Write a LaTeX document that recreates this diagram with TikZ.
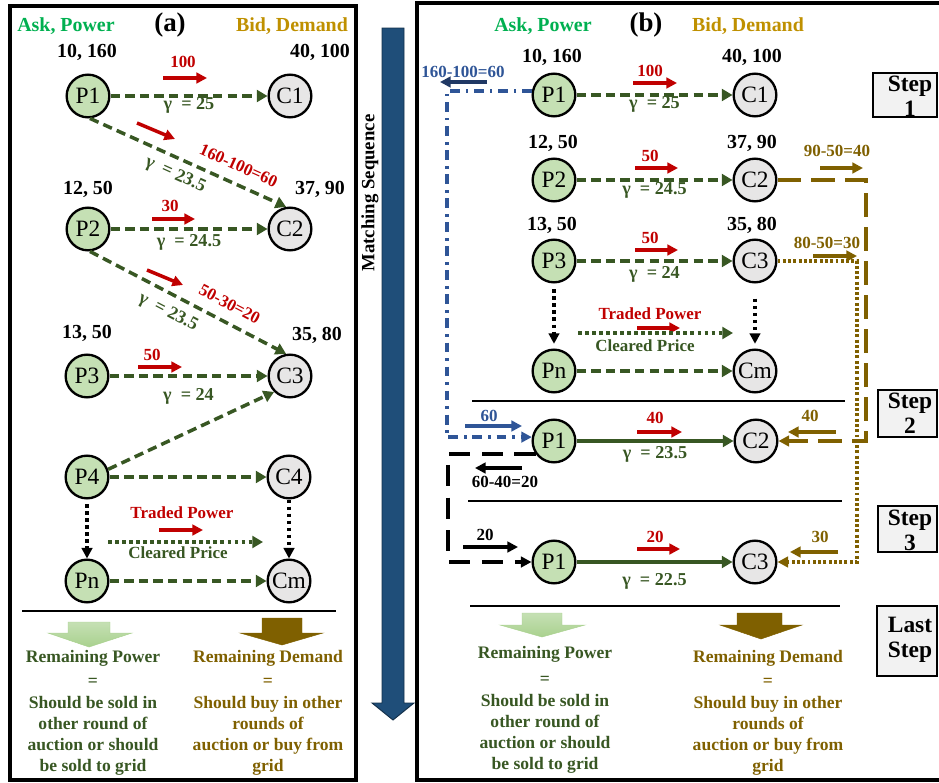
\documentclass[tikz,border=0pt]{standalone}
\usepackage{fontspec}
\setmainfont{Liberation Serif}
\usetikzlibrary{
	positioning,
	arrows.meta
}
\definecolor{askgreen}{HTML}{00B050}
\definecolor{bidgold}{HTML}{BF9000}
\definecolor{pricegreen}{HTML}{385723}
\definecolor{powerred}{HTML}{C00000}
\definecolor{demandbrown}{HTML}{7F6000}
\definecolor{carryblue}{HTML}{2F5597}
\definecolor{remblue}{HTML}{203864}
\definecolor{seqblue}{HTML}{1F4E79}
\definecolor{sellerfill}{HTML}{C5E0B4}
\definecolor{buyerfill}{HTML}{E7E6E6}
\definecolor{powerarrow}{HTML}{A9D18E}
\definecolor{stepfill}{HTML}{F2F2F2}

\begin{document}
\begin{tikzpicture}[
	x=0.03cm, y=-0.03cm,
	seller/.style={circle, draw, line width=2pt, fill=sellerfill, minimum size=1.28cm, inner sep=0pt, font=\fontsize{20}{20}\selectfont},
	buyer/.style={seller, fill=buyerfill},
	sidelabel/.style={font=\fontsize{17}{20}\selectfont\bfseries, inner sep=0pt},
	panel/.style={font=\fontsize{23}{26}\selectfont\bfseries, inner sep=0pt},
	amount/.style={font=\fontsize{14.5}{17}\selectfont\bfseries, inner sep=0pt},
	price/.style={font=\fontsize{15.5}{18}\selectfont\bfseries, text=pricegreen, inner sep=0pt},
	trade/.style={draw=pricegreen, line width=3pt, dash pattern=on 8pt off 4.5pt, -{Triangle[length=9pt, width=10pt]}},
	cleared/.style={trade, solid},
	flow/.style={line width=3pt, -{Triangle[length=9pt, width=9pt]}},
	order/.style={draw=black, line width=3pt, dash pattern=on 3pt off 3pt, -{Triangle[length=9pt, width=9pt]}},
	carry/.style={line width=3pt, -{Triangle[length=9pt, width=9pt]}},
	remain/.style={font=\fontsize{15}{18}\selectfont\bfseries, align=center, inner sep=0pt},
	panelframe/.style={line width=3.4pt},
	sepline/.style={line width=1.7pt},
	stepframe/.style={draw=black, line width=1.2pt},
	steptext/.style={font=\fontsize{20}{21.5}\selectfont\bfseries, align=center, inner sep=0pt}
]
	\useasboundingbox (0,0) rectangle (939,783);
	% 面板边框
	\draw[panelframe] (10,6) rectangle (356,780);
	\draw[panelframe] (945,3) -- (417,3) -- (417,780) -- (945,780);

	% ===== 面板 (a) =====
	\node[sidelabel, text=askgreen] (a-ask) at (66,26) {Ask, Power};
	\node[panel] (a-title) at (170,25) {(a)};
	\node[sidelabel, text=bidgold] (a-bid) at (292,26) {Bid, Demand};
	% 报价
	\node[sidelabel] (a-o-p1) at (87,52) {10, 160};
	\node[sidelabel] (a-o-c1) at (320,52) {40, 100};
	\node[sidelabel] (a-o-p2) at (88,189) {12, 50};
	\node[sidelabel] (a-o-c2) at (320,189) {37, 90};
	\node[sidelabel] (a-o-p3) at (87,333) {13, 50};
	\node[sidelabel] (a-o-c3) at (317,335) {35, 80};
	% 节点
	\node[seller] (a-p1) at (88,96)  {P1};
	\node[buyer]  (a-c1) at (290,96) {C1};
	\node[seller] (a-p2) at (88,229) {P2};
	\node[buyer]  (a-c2) at (290,229) {C2};
	\node[seller] (a-p3) at (87,376) {P3};
	\node[buyer]  (a-c3) at (290,376) {C3};
	\node[seller] (a-p4) at (87,477) {P4};
	\node[buyer]  (a-c4) at (289,477) {C4};
	\node[seller] (a-pn) at (87,581) {Pn};
	\node[buyer]  (a-cm) at (289,581) {Cm};
	% 交易
	\draw[trade] (a-p1) -- (a-c1) node[midway, below=0pt, price] (a-g1) {γ~~= 25};
	\draw[trade] (a-p1.-85) -- (a-c2.100)
		node[pos=0.72, sloped, above=9pt, amount, text=powerred] (a-r12) {160-100=60}
		node[pos=0.47, sloped, below=6pt, price] (a-g12) {γ~~= 23.5};
	\draw[trade] (a-p2) -- (a-c2) node[midway, below=3pt, price] (a-g2) {γ~~= 24.5};
	\draw[trade] (a-p2.-85) -- (a-c3.100)
		node[pos=0.67, sloped, above=9pt, amount, text=powerred] (a-r23) {50-30=20}
		node[pos=0.44, sloped, below=7pt, price] (a-g23) {γ~~= 23.5};
	\draw[trade] (a-p3) -- (a-c3) node[midway, below=9pt, price] (a-g3) {γ~~= 24};
	\draw[trade] (a-p4.20) -- (a-c3.225);
	\draw[trade] (a-p4) -- (a-c4);
	\draw[trade] (a-pn) -- (a-cm);
	\draw[order, shorten <=4pt] (a-p4) -- (a-pn);
	\draw[order] (a-c4) -- (a-cm);
	% 交易电量
	\draw[flow, powerred] (163,78) -- (207,78);
	\node[amount, text=powerred] (a-f1) at (183,62) {100};
	\draw[flow, powerred] (137,123) -- (175,139);
	\draw[flow, powerred] (152,219) -- (195,219);
	\node[amount, text=powerred] (a-f2) at (170,206) {30};
	\draw[flow, powerred] (147,270) -- (183,285);
	\draw[flow, powerred] (138,367) -- (182,367);
	\node[amount, text=powerred] (a-f3) at (152,355) {50};
	% 图例
	\node[amount, text=powerred] (a-leg-tp) at (182,513) {Traded Power};
	\draw[flow, powerred] (159,530) -- (203,530);
	\coordinate (a-leg-from) at (108,542);
	\coordinate (a-leg-to)   at (263,542);
	\draw[trade, dash pattern=on 3pt off 3pt] (a-leg-from) -- (a-leg-to);
	\node[amount, text=pricegreen] (a-leg-cp) at (178,553) {Cleared Price};
	% 剩余
	\draw[sepline] (22,611) -- (336,611);
	\shadedraw[top color=sellerfill, bottom color=powerarrow, draw=powerarrow] (68,622) -- (110,622) -- (110,633) -- (132,633) -- (89,647) -- (48,633) -- (68,633) -- cycle;
	\filldraw[fill=demandbrown, draw=demandbrown] (262,618) -- (302,618) -- (302,633) -- (323,633) -- (282,645) -- (240,633) -- (262,633) -- cycle;
	\node[remain, text=pricegreen] (a-rp) at (93,658) {Remaining Power};
	\node[remain, text=pricegreen] (a-rp-txt) at (93,727) {=\\Should be sold in\\other round of\\auction or should\\be sold to grid};
	\node[remain, text=demandbrown] (a-rd) at (268,658) {Remaining Demand};
	\node[remain, text=demandbrown] (a-rd-txt) at (268,727) {=\\Should buy in other\\rounds of\\auction or buy from\\grid};

	% ===== 匹配顺序 =====
	\filldraw[fill=seqblue, draw=seqblue!60!black, line width=0.8pt] (382,28) -- (404,28) -- (404,703) -- (414,703) -- (393,720) -- (372,703) -- (382,703) -- cycle;
	\node[sidelabel, font=\fontsize{16}{18}\selectfont\bfseries, rotate=90] (seq) at (370,193) {Matching Sequence};

	% ===== 面板 (b) =====
	\node[sidelabel, text=askgreen] (b-ask) at (543,26) {Ask, Power};
	\node[panel] (b-title) at (646,25) {(b)};
	\node[sidelabel, text=bidgold] (b-bid) at (748,26) {Bid, Demand};
	% 报价
	\node[sidelabel] (b-o-p1) at (552,57) {10, 160};
	\node[sidelabel] (b-o-c1) at (752,57) {40, 100};
	\node[sidelabel] (b-o-p2) at (553,143) {12, 50};
	\node[sidelabel] (b-o-c2) at (752,143) {37, 90};
	\node[sidelabel] (b-o-p3) at (552,225) {13, 50};
	\node[sidelabel] (b-o-c3) at (752,225) {35, 80};
	% 节点
	\node[seller] (b1-p1) at (554,95)  {P1};
	\node[buyer]  (b1-c1) at (755,95)  {C1};
	\node[seller] (b1-p2) at (554,180) {P2};
	\node[buyer]  (b1-c2) at (755,180) {C2};
	\node[seller] (b1-p3) at (554,261) {P3};
	\node[buyer]  (b1-c3) at (755,261) {C3};
	\node[seller] (b1-pn) at (554,371) {Pn};
	\node[buyer]  (b1-cm) at (755,371) {Cm};
	\node[seller] (b2-p1) at (554,441) {P1};
	\node[buyer]  (b2-c2) at (756,441) {C2};
	\node[seller] (b3-p1) at (554,562) {P1};
	\node[buyer]  (b3-c3) at (755,562) {C3};
	% 交易
	\draw[trade] (b1-p1) -- (b1-c1) node[midway, below=0pt, price] (b-g1) {γ~~= 25};
	\draw[trade] (b1-p2) -- (b1-c2) node[midway, below=1pt, price] (b-g2) {γ~~= 24.5};
	\draw[trade] (b1-p3) -- (b1-c3) node[midway, below=3pt, price] (b-g3) {γ~~= 24};
	\draw[trade] (b1-pn) -- (b1-cm);
	\draw[order, shorten <=5pt, shorten >=4pt] (b1-p3) -- (b1-pn);
	\draw[order, shorten <=13pt, shorten >=4pt] (b1-c3) -- (b1-cm);
	\draw[cleared] (b2-p1) -- (b2-c2) node[midway, below=3pt, price] (b-g4) {γ~~= 23.5};
	\draw[cleared] (b3-p1) -- (b3-c3) node[midway, below=8pt, price] (b-g5) {γ~~= 22.5};
	% 交易电量
	\draw[flow, powerred] (633,83) -- (677,83);
	\node[amount, text=powerred] (b-f1) at (650,71) {100};
	\draw[flow, powerred] (635,168) -- (678,168);
	\node[amount, text=powerred] (b-f2) at (650,156) {50};
	\draw[flow, powerred] (635,250) -- (678,250);
	\node[amount, text=powerred] (b-f3) at (650,238) {50};
	\draw[flow, powerred] (637,432) -- (682,432);
	\node[amount, text=powerred] (b-f4) at (655,418) {40};
	\draw[flow, powerred] (637,549) -- (680,549);
	\node[amount, text=powerred] (b-f5) at (655,537) {20};
	% 图例
	\node[amount, text=powerred] (b-leg-tp) at (650,314) {Traded Power};
	\draw[flow, powerred] (637,328) -- (680,328);
	\coordinate (b-leg-from) at (578,333);
	\coordinate (b-leg-to)   at (733,333);
	\draw[trade, dash pattern=on 3pt off 3pt] (b-leg-from) -- (b-leg-to);
	\node[amount, text=pricegreen] (b-leg-cp) at (645,346) {Cleared Price};
	% 剩余电量转入下一步
	\coordinate (blue-turn) at (447,260);
	\draw[carry, carryblue, dash pattern=on 8.5pt off 5pt on 2pt off 5pt] (b1-p1.170) -| (blue-turn) |- (b2-p1.170);
	\node[amount, text=carryblue] (b-rem1) at (463,72) {160-100=60};
	\draw[flow, remblue] (487,82) -- (440,82);
	\node[amount, text=carryblue] (b-rem1-in) at (489,416) {60};
	\draw[flow, carryblue] (465,426) -- (522,426);
	\coordinate (black-turn) at (448,500);
	\draw[carry, black, dash pattern=on 18pt off 10pt] (b2-p1.215) -| (black-turn) |- (b3-p1.west);
	\node[amount] (b-rem2) at (505,482) {60-40=20};
	\draw[flow, black] (522,468) -- (475,468);
	\node[amount] (b-rem2-in) at (485,535) {20};
	\draw[flow, black] (463,547) -- (518,547);
	% 剩余需求转入下一步
	\coordinate (brown-turn) at (866,300);
	\draw[carry, demandbrown, dash pattern=on 20pt off 9pt] (b1-c2.east) -| (brown-turn) |- (b2-c2.east);
	\node[amount, text=demandbrown] (b-dem1) at (837,151) {90-50=40};
	\draw[flow, demandbrown] (820,168) -- (863,168);
	\node[amount, text=demandbrown] (b-dem1-in) at (810,416) {40};
	\draw[flow, demandbrown] (836,432) -- (788,432);
	\coordinate (dot-turn) at (857,400);
	\draw[carry, demandbrown, dash pattern=on 2.5pt off 2pt] (b1-c3.east) -| (dot-turn) |- (b3-c3.east);
	\node[amount, text=demandbrown] (b-dem2) at (827,243) {80-50=30};
	\draw[flow, demandbrown] (813,256) -- (857,256);
	\node[amount, text=demandbrown] (b-dem2-in) at (820,537) {30};
	\draw[flow, demandbrown] (838,552) -- (790,552);
	% 分隔线
	\draw[sepline] (472,401) -- (845,401);
	\draw[sepline] (468,501) -- (842,501);
	\draw[sepline] (470,606) -- (840,606);
	% 剩余
	\shadedraw[top color=sellerfill, bottom color=powerarrow, draw=powerarrow] (522,613) -- (562,613) -- (562,625) -- (585,625) -- (542,637) -- (500,625) -- (522,625) -- cycle;
	\filldraw[fill=demandbrown, draw=demandbrown] (737,613) -- (782,613) -- (782,625) -- (802,625) -- (761,639) -- (720,625) -- (737,625) -- cycle;
	\node[remain, text=pricegreen] (b-rp) at (545,654) {Remaining Power};
	\node[remain, text=pricegreen] (b-rp-txt) at (545,725) {=\\Should be sold in\\other round of\\auction or should\\be sold to grid};
	\node[remain, text=demandbrown] (b-rd) at (768,658) {Remaining Demand};
	\node[remain, text=demandbrown] (b-rd-txt) at (768,727) {=\\Should buy in other\\rounds of\\auction or buy from\\grid};

	% ===== 步骤框 =====
	\fill[stepfill] (873,73) rectangle (937,117);
	\begin{scope}
		\clip (873,73) rectangle (937,117);
		\node[steptext] (step-1) at (910,96) {Step\\1};
	\end{scope}
	\draw[stepframe] (873,73) rectangle (937,117);
	\fill[stepfill] (878,390) rectangle (937,437);
	\begin{scope}
		\clip (878,390) rectangle (937,437);
		\node[steptext] (step-2) at (910,413) {Step\\2};
	\end{scope}
	\draw[stepframe] (878,390) rectangle (937,437);
	\fill[stepfill] (878,506) rectangle (937,552);
	\begin{scope}
		\clip (878,506) rectangle (937,552);
		\node[steptext] (step-3) at (910,530) {Step\\3};
	\end{scope}
	\draw[stepframe] (878,506) rectangle (937,552);
	\fill[stepfill] (877,606) rectangle (937,676);
	\node[steptext] (step-last) at (910,640) {Last\\Step};
	\draw[stepframe] (877,606) rectangle (937,676);
\end{tikzpicture}
\end{document}
